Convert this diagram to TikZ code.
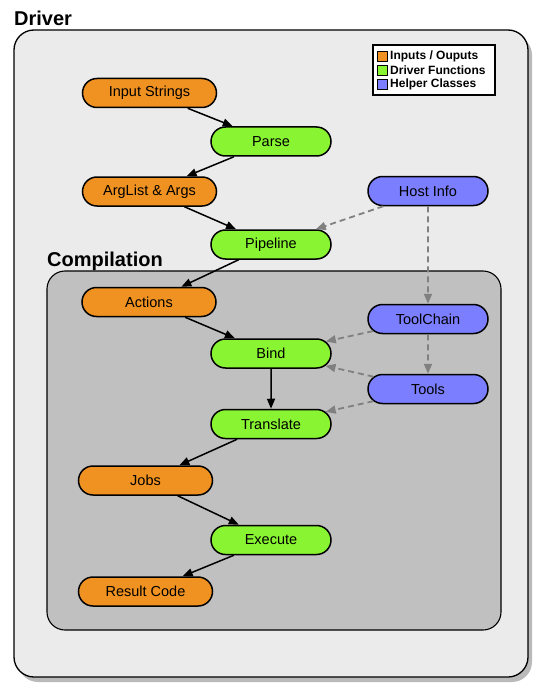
\documentclass[tikz,border=0pt]{standalone}
\usepackage{fontspec}
\setmainfont{Liberation Sans}
\usetikzlibrary{shapes.misc,arrows.meta,shadows}
\definecolor{cOrange}{RGB}{240,146,34}
\definecolor{cGreen}{RGB}{137,245,50}
\definecolor{cBlue}{RGB}{123,126,254}
\definecolor{cDriver}{RGB}{235,235,235}
\definecolor{cComp}{RGB}{192,192,192}
\definecolor{cDash}{RGB}{128,128,128}
\begin{document}
\begin{tikzpicture}[x=1pt,y=-1pt,
  pill/.style={rounded rectangle, draw=black, line width=1.5pt, minimum height=29pt,
    inner sep=0pt, font=\fontsize{14.5}{17}\selectfont},
  io/.style={pill, fill=cOrange, minimum width=134pt},
  fn/.style={pill, fill=cGreen, minimum width=120pt},
  helper/.style={pill, fill=cBlue, minimum width=120pt},
  flow/.style={draw=black, line width=1.5pt, -{Triangle[length=10pt,width=8pt]}},
  uses/.style={draw=cDash, line width=1.8pt, dash pattern=on 6pt off 4pt,
    -{Triangle[length=10pt,width=8pt,fill=cDash]}},
  title/.style={font=\fontsize{20}{24}\selectfont\bfseries, anchor=base west, inner sep=0pt},
  legtext/.style={font=\fontsize{12}{14}\selectfont\bfseries, anchor=west, inner sep=0pt},
  legbox/.style={draw=black, line width=0.8pt, minimum size=10pt, inner sep=0pt}
]
\useasboundingbox (0,0) rectangle (542,695);
% outer Driver box
\fill[black!45, opacity=0.6, rounded corners=20pt] (18,35) rectangle (532,682);
\filldraw[fill=cDriver, draw=black, line width=1.3pt, rounded corners=20pt] (14,30) rectangle (528,677);
\node[title] (driverlbl) at (14,26) {Driver};
% Compilation box
\filldraw[fill=cComp, draw=black, line width=1.1pt, rounded corners=18pt] (47,271) rectangle (501,630);
\node[title] (complbl) at (47,266) {Compilation};
% legend
\filldraw[fill=white, draw=black, line width=1.2pt] (373,45) rectangle (495,95);
\node[legbox, fill=cOrange] (lg1) at (382,56.5) {};
\node[legbox, fill=cGreen] (lg2) at (382,70.5) {};
\node[legbox, fill=cBlue] (lg3) at (382,84.5) {};
\node[legtext] (lt1) at (390,56.5) {Inputs / Ouputs};
\node[legtext] (lt2) at (390,70.5) {Driver Functions};
\node[legtext] (lt3) at (390,84.5) {Helper Classes};
% nodes
\node[io] (input) at (149.5,93) {Input Strings};
\node[fn] (parse) at (271,141.5) {Parse};
\node[io] (args) at (149.5,191.5) {ArgList \& Args};
\node[helper] (host) at (428,191) {Host Info};
\node[fn] (pipe) at (271,244.5) {Pipeline};
\node[io] (actions) at (149,302) {Actions};
\node[helper] (tc) at (428,319) {ToolChain};
\node[fn] (bind) at (271,353.5) {Bind};
\node[helper] (tools) at (428,389) {Tools};
\node[fn] (trans) at (271,424) {Translate};
\node[io] (jobs) at (145.5,480.5) {Jobs};
\node[fn] (exec) at (271,540) {Execute};
\node[io] (result) at (145.5,591.5) {Result Code};
% flow
\draw[flow] (input) -- (parse);
\draw[flow] (parse) -- (args);
\draw[flow] (args) -- (pipe);
\draw[flow] (pipe) -- (actions);
\draw[flow] (actions) -- (bind);
\draw[flow] (bind) -- (trans);
\draw[flow] (trans) -- (jobs);
\draw[flow] (jobs) -- (exec);
\draw[flow] (exec) -- (result);
% helper usage
\draw[uses] (host) -- (pipe);
\draw[uses] (host) -- (tc);
\draw[uses] (tc) -- (bind);
\draw[uses] (tc) -- (tools);
\draw[uses] (tools) -- (bind);
\draw[uses] (tools) -- (trans);
\end{tikzpicture}
\end{document}
